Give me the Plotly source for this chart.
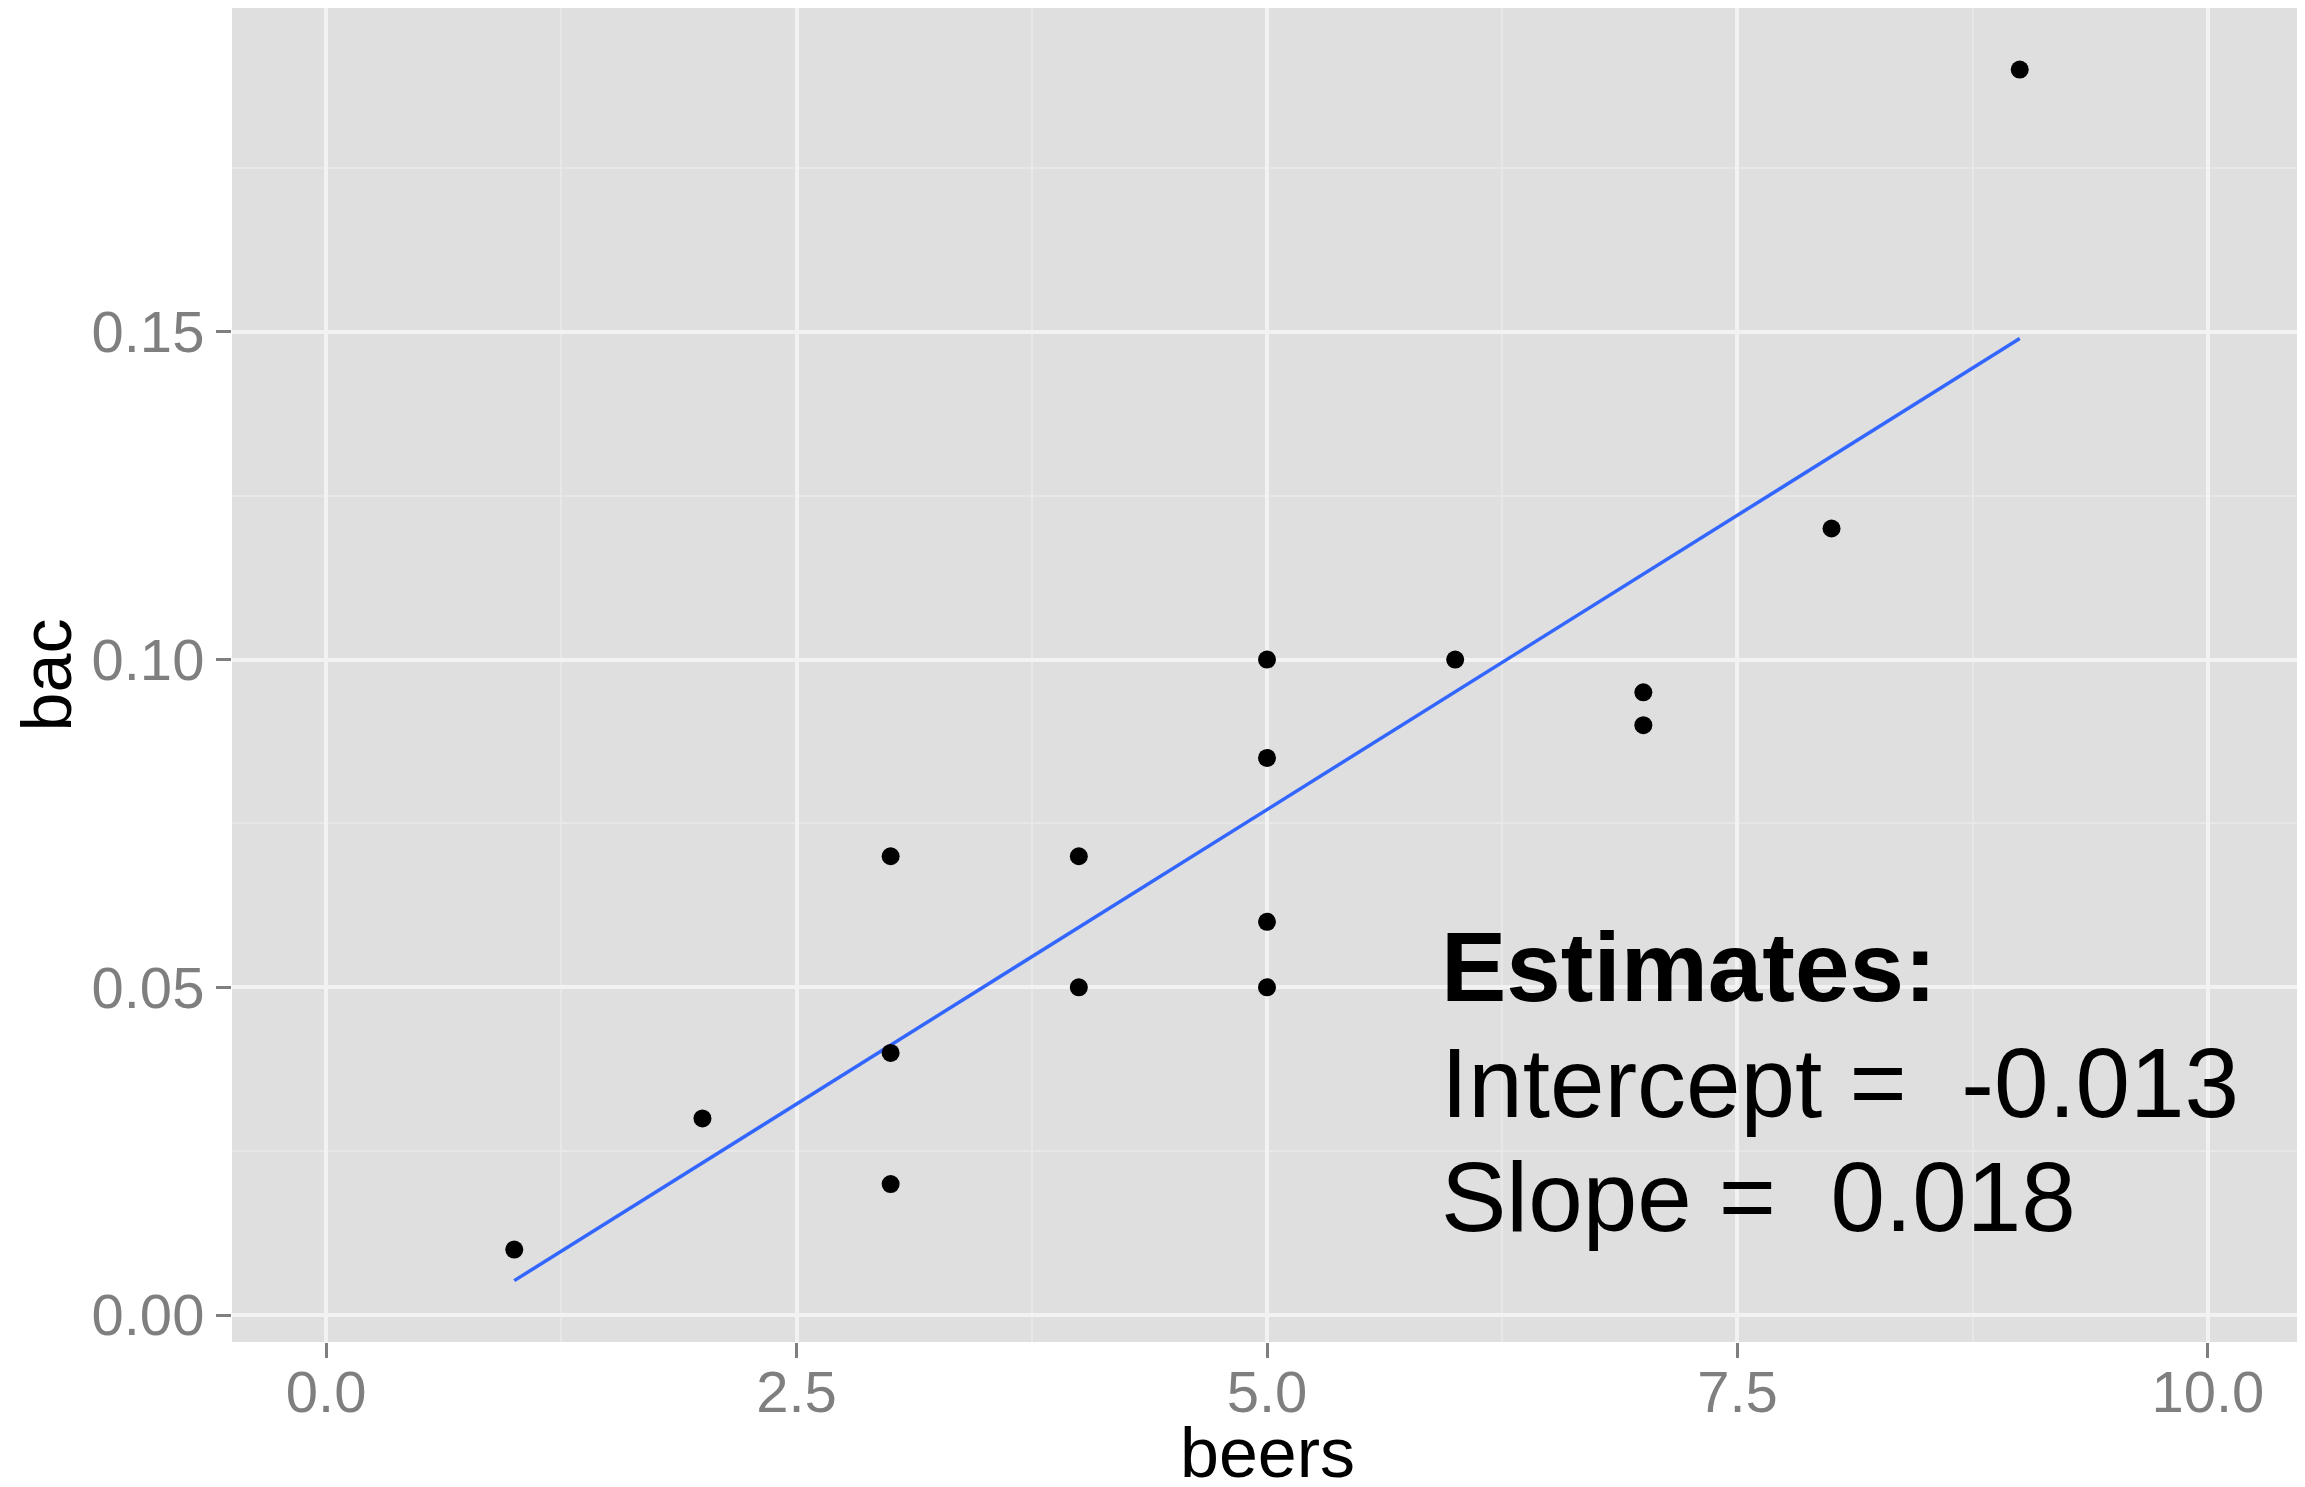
import numpy as np
import plotly.graph_objects as go

# Data
beers = [5, 2, 9, 8, 3, 7, 3, 5, 3, 5, 4, 6, 5, 7, 1, 4]
bac = [0.10, 0.03, 0.19, 0.12, 0.04, 0.095, 0.07, 0.06, 0.02, 0.05, 0.07, 0.10, 0.085, 0.09, 0.01, 0.05]
x_ticks = [0.0, 2.5, 5.0, 7.5, 10.0]
x_tick_labels = ["0.0", "2.5", "5.0", "7.5", "10.0"]
y_ticks = [0.00, 0.05, 0.10, 0.15]
y_tick_labels = ["0.00", "0.05", "0.10", "0.15"]
x_title = "beers"
y_title = "bac"

slope, intercept = np.polyfit(beers, bac, 1)
fit_x = [min(beers), max(beers)]
fit_y = [intercept + slope * v for v in fit_x]

# page body has an 8px default margin, so the figure is offset by 8px
W, H = 2297, 1479
L, R, T, B = 224, 3, 0, 145
FONT = "Liberation Sans, Arial, Helvetica, sans-serif"
GRID_MAJOR = "#F2F2F2"
GRID_MINOR = "#E7E7E7"
TICK_GREY = "#7F7F7F"

fig = go.Figure()
fig.add_trace(go.Scatter(
    x=fit_x, y=fit_y, mode="lines",
    line=dict(color="#3366FF", width=3.5),
    hoverinfo="skip", showlegend=False,
))
fig.add_trace(go.Scatter(
    x=beers, y=bac, mode="markers",
    marker=dict(color="black", size=18, line=dict(width=0)),
    showlegend=False,
))

# Estimates annotation
ann_x = 5.92
lines = [
    ("<b>Estimates:</b>", 0.0531),
    (f"Intercept =  {intercept:.3f}", 0.0354),
    (f"Slope =  {slope:.3f}", 0.0180),
]
for txt, yy in lines:
    fig.add_annotation(
        x=ann_x, y=yy, xref="x", yref="y", text=txt, showarrow=False,
        xanchor="left", yanchor="middle", align="left",
        font=dict(family=FONT, size=98, color="black"), borderpad=0,
    )

# x-axis title placed just below the tick labels
fig.add_annotation(
    x=0.5, y=0, xref="paper", yref="paper", text=x_title, showarrow=False,
    xanchor="center", yanchor="middle", yshift=-111,
    font=dict(family=FONT, size=70, color="black"), borderpad=0,
)

fig.update_layout(
    width=W, height=H,
    margin=dict(l=L, r=R, t=T, b=B, autoexpand=False),
    paper_bgcolor="white",
    plot_bgcolor="#DFDFDF",
    font=dict(family=FONT),
    showlegend=False,
    xaxis=dict(
        range=[-0.5, 10.5], tickvals=x_ticks, ticktext=x_tick_labels,
        showgrid=True, gridcolor=GRID_MAJOR, gridwidth=3.5,
        minor=dict(tickvals=[1.25, 3.75, 6.25, 8.75], showgrid=True,
                   gridcolor=GRID_MINOR, gridwidth=1.5, ticks=""),
        zeroline=False, showline=False,
        ticks="outside", ticklen=15, tickwidth=3, tickcolor=TICK_GREY,
        ticklabelstandoff=-16,
        tickfont=dict(family=FONT, size=58, color=TICK_GREY),
        automargin=False,
    ),
    yaxis=dict(
        range=[-0.0041, 0.1994], tickvals=y_ticks, ticktext=y_tick_labels,
        showgrid=True, gridcolor=GRID_MAJOR, gridwidth=3.5,
        minor=dict(tickvals=[0.025, 0.075, 0.125, 0.175], showgrid=True,
                   gridcolor=GRID_MINOR, gridwidth=1.5, ticks=""),
        zeroline=False, showline=False,
        ticks="outside", ticklen=15, tickwidth=3, tickcolor=TICK_GREY,
        tickfont=dict(family=FONT, size=58, color=TICK_GREY),
        title=dict(text=y_title, font=dict(family=FONT, size=70, color="black"), standoff=10),
        automargin=False,
    ),
)

fig.write_html("out.html")
